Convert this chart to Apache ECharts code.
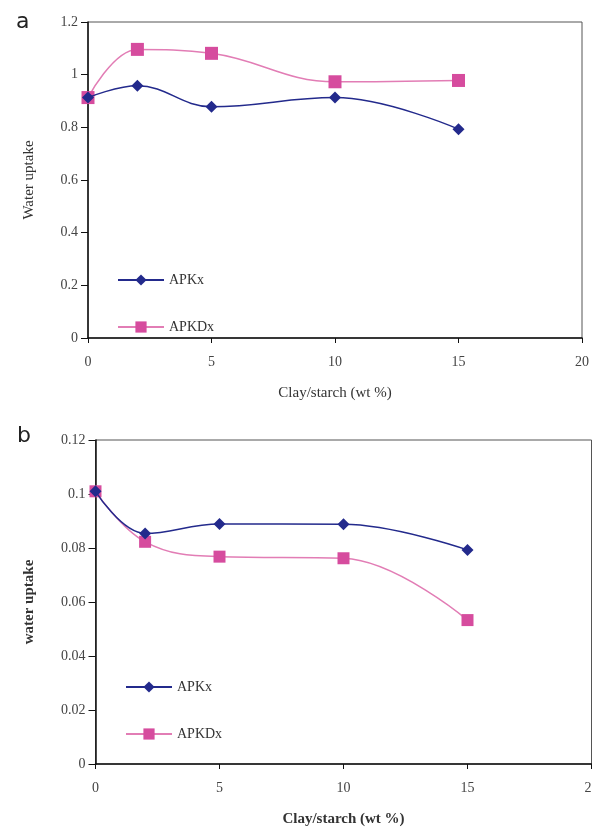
<!DOCTYPE html>
<html><head><meta charset="utf-8">
<script src="https://cdn.jsdelivr.net/npm/echarts@6/dist/echarts.min.js"></script>
<style>html,body{margin:0;padding:0;background:#fff}#c{width:592px;height:829px}</style>
</head><body><div id="c"></div>
<script>
const xValues = [0, 2, 5, 10, 15];
const aAPKx  = [0.913, 0.958, 0.878, 0.913, 0.793];
const aAPKDx = [0.913, 1.096, 1.081, 0.973, 0.978];
const bAPKx  = [0.101, 0.0854, 0.0889, 0.0888, 0.0793];
const bAPKDx = [0.101, 0.0823, 0.0768, 0.0762, 0.0533];
const seriesNames = ['APKx', 'APKDx'];
const xTitle = 'Clay/starch (wt %)';
const yTitleA = 'Water uptake';
const yTitleB = 'water uptake';

const pair = (xs, ys) => xs.map((x, i) => [x, ys[i]]);
const BLUE = '#232a8c', PINK_M = '#d64c9e', PINK_L = '#e27db5';
const serif = 'Liberation Serif';

function xAxisCfg(gi, bold) {
  return {
    type: 'value', gridIndex: gi, min: 0, max: 20, interval: 5,
    name: xTitle, nameLocation: 'middle', nameGap: 48,
    nameTextStyle: { fontFamily: serif, fontSize: 15, color: '#333', fontWeight: bold ? 'bold' : 'normal' },
    axisLine: { lineStyle: { color: '#111', width: 1.5 } },
    axisTick: { length: 5, lineStyle: { color: '#111' } },
    axisLabel: { fontFamily: serif, fontSize: 14, color: '#444', margin: 17 },
    splitLine: { show: false }
  };
}
function yAxisCfg(gi, max, interval, name, gap, bold) {
  return {
    type: 'value', gridIndex: gi, min: 0, max: max, interval: interval,
    name: name, nameLocation: 'middle', nameGap: gap, nameRotate: 90,
    nameTextStyle: { fontFamily: serif, fontSize: 15, color: '#333', fontWeight: bold ? 'bold' : 'normal' },
    axisLine: { show: true, lineStyle: { color: '#111', width: 1.5 } },
    axisTick: { show: true, length: 7, lineStyle: { color: '#111' } },
    axisLabel: { fontFamily: serif, fontSize: 14, color: '#444', margin: 10 },
    splitLine: { show: false }
  };
}
function ser(name, gi, data, sym, size, lineColor, markColor) {
  return {
    name: name, type: 'line', xAxisIndex: gi, yAxisIndex: gi,
    data: data, smooth: 0.4, symbol: sym, symbolSize: size,
    lineStyle: { color: lineColor, width: 1.5 },
    itemStyle: { color: markColor },
    z: name === 'APKx' ? 3 : 2
  };
}

const chart = echarts.init(document.getElementById('c'), null, { renderer: 'canvas' });
chart.setOption({
  animation: false,
  backgroundColor: '#fff',
  grid: [
    { left: 88, top: 22, right: 10, bottom: 491, show: true, borderColor: '#555', borderWidth: 1, backgroundColor: 'transparent', outerBoundsMode: 'none', containLabel: false },
    { left: 95.5, top: 440, right: 0.5, bottom: 65, show: true, borderColor: '#555', borderWidth: 1, backgroundColor: 'transparent', outerBoundsMode: 'none', containLabel: false }
  ],
  xAxis: [xAxisCfg(0, false), xAxisCfg(1, true)],
  yAxis: [yAxisCfg(0, 1.2, 0.2, yTitleA, 51, false), yAxisCfg(1, 0.12, 0.02, yTitleB, 59, true)],
  legend: [
    { orient: 'vertical', left: 117, top: 273, itemWidth: 46, itemHeight: 14, itemGap: 33, padding: 0,
      data: seriesNames, textStyle: { fontFamily: serif, fontSize: 14, color: '#333' } },
    { orient: 'vertical', left: 125, top: 680, itemWidth: 46, itemHeight: 14, itemGap: 33, padding: 0,
      data: seriesNames, textStyle: { fontFamily: serif, fontSize: 14, color: '#333' } }
  ],
  graphic: [
    { type: 'text', left: 16, top: 11, style: { text: 'a', fontFamily: 'DejaVu Sans', fontSize: 22, fill: '#222' } },
    { type: 'text', left: 17, top: 425, style: { text: 'b', fontFamily: 'DejaVu Sans', fontSize: 22, fill: '#222' } }
  ],
  series: [
    ser(seriesNames[0], 0, pair(xValues, aAPKx), 'diamond', 12, BLUE, BLUE),
    ser(seriesNames[1], 0, pair(xValues, aAPKDx), 'rect', 13, PINK_L, PINK_M),
    ser(seriesNames[0], 1, pair(xValues, bAPKx), 'diamond', 12, BLUE, BLUE),
    ser(seriesNames[1], 1, pair(xValues, bAPKDx), 'rect', 12, PINK_L, PINK_M)
  ]
});
</script></body></html>
